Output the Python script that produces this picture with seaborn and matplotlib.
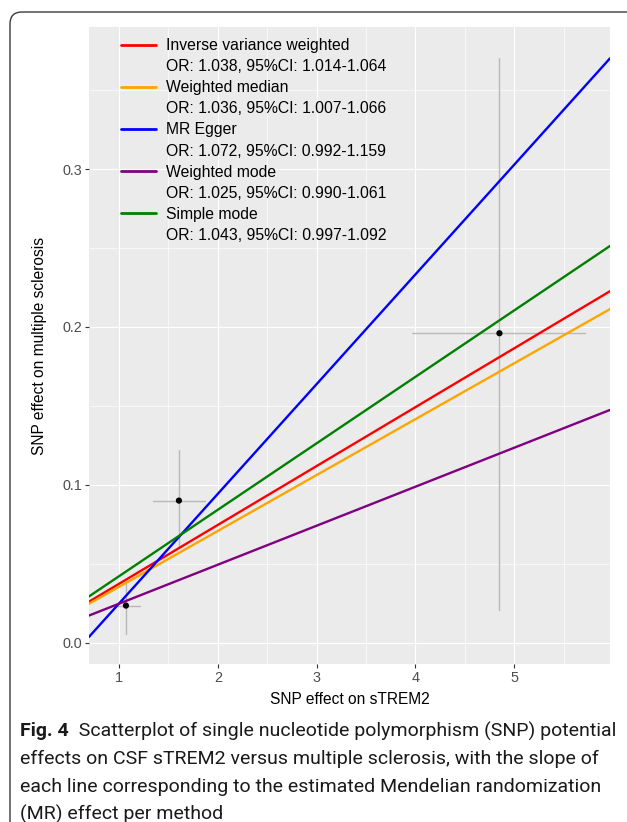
import matplotlib
matplotlib.use("Agg")
import matplotlib.pyplot as plt
import seaborn as sns
import pandas as pd
from matplotlib.lines import Line2D
from matplotlib.patches import FancyBboxPatch
from matplotlib.transforms import IdentityTransform

# ---------------- data ----------------
snp_x = [1.07, 1.606, 4.85]
snp_y = [0.0235, 0.090, 0.196]
snp_x_lo = [0.94, 1.344, 3.97]
snp_x_hi = [1.21, 1.87, 5.72]
snp_y_lo = [0.0055, 0.0613, 0.0207]
snp_y_hi = [0.0378, 0.122, 0.3705]

methods = ["Inverse variance weighted", "Weighted median", "MR Egger",
           "Weighted mode", "Simple mode"]
method_stats = ["OR: 1.038, 95%CI: 1.014-1.064",
                "OR: 1.036, 95%CI: 1.007-1.066",
                "OR: 1.072, 95%CI: 0.992-1.159",
                "OR: 1.025, 95%CI: 0.990-1.061",
                "OR: 1.043, 95%CI: 0.997-1.092"]
slopes = [0.0373, 0.0354, 0.0695, 0.0247, 0.0421]
intercepts = [0.0, 0.0, -0.0447, 0.0, 0.0]
colors = ["#FF0000", "#FFA500", "#0000FF", "#800080", "#008000"]

x_ticks = [1, 2, 3, 4, 5]
y_ticks = [0.0, 0.1, 0.2, 0.3]
y_tick_labels = ["0.0", "0.1", "0.2", "0.3"]

caption_bold = "Fig. 4"
caption_lines = [
    "Scatterplot of single nucleotide polymorphism (SNP) potential",
    "effects on CSF sTREM2 versus multiple sclerosis, with the slope of",
    "each line corresponding to the estimated Mendelian randomization",
    "(MR) effect per method",
]

# ---------------- style ----------------
sns.set_theme(style="darkgrid", rc={
    "axes.facecolor": "#EBEBEB",
    "grid.color": "white",
    "axes.edgecolor": "none",
})
plt.rcParams["font.family"] = ["Liberation Sans", "DejaVu Sans"]

W, H = 627, 822
fig = plt.figure(figsize=(W / 100, H / 100), dpi=100)
fig.patch.set_facecolor("white")

pl, pr, pb, pt = 89, 610, 664, 27
ax = fig.add_axes([pl / W, 1 - pb / H, (pr - pl) / W, (pb - pt) / H])

df = pd.DataFrame({"x": snp_x, "y": snp_y})

# error bars
for i in range(len(snp_x)):
    ax.plot([snp_x_lo[i], snp_x_hi[i]], [snp_y[i], snp_y[i]],
            color="#B8B8B8", lw=1.0, zorder=2)
    ax.plot([snp_x[i], snp_x[i]], [snp_y_lo[i], snp_y_hi[i]],
            color="#B8B8B8", lw=1.0, zorder=2)

# MR lines
for name, b, a, c in zip(methods, slopes, intercepts, colors):
    ax.axline((0, a), slope=b, color=c, lw=1.7, zorder=3)

sns.scatterplot(data=df, x="x", y="y", ax=ax, color="black", s=20,
                edgecolor="none", zorder=4, legend=False)

ax.set_xlim(0.696, 5.969)
ax.set_ylim(-0.0135, 0.390)
ax.set_xticks(x_ticks)
ax.set_xticklabels([str(t) for t in x_ticks])
ax.set_yticks(y_ticks)
ax.set_yticklabels(y_tick_labels)
ax.set_xticks([1.5, 2.5, 3.5, 4.5, 5.5], minor=True)
ax.set_yticks([0.05, 0.15, 0.25, 0.35], minor=True)
ax.grid(which="major", color="white", lw=0.85)
ax.grid(which="minor", color="white", lw=0.45)
ax.tick_params(axis="both", which="major", length=3.0, width=0.8,
               color="#333333", labelcolor="#4D4D4D", labelsize=10.4, pad=2,
               bottom=True, left=True)
ax.tick_params(axis="both", which="minor", length=0)
for s in ax.spines.values():
    s.set_visible(False)

ax.set_xlabel("SNP effect on sTREM2", fontsize=11.2, color="black", labelpad=5)
ax.set_ylabel("SNP effect on multiple sclerosis", fontsize=11.2, color="black",
              labelpad=11)

# legend: title line with key, then statistics line without key
handles, labels = [], []
for name, st, c in zip(methods, method_stats, colors):
    handles.append(Line2D([], [], color=c, lw=2.0))
    labels.append(name)
    handles.append(Line2D([], [], color="none", lw=0))
    labels.append(st)
leg = ax.legend(handles, labels, loc="upper left",
                bbox_to_anchor=((121 - pl) / (pr - pl), 1 - (38 - pt) / (pb - pt)),
                frameon=False, fontsize=11.3, handlelength=2.25,
                handletextpad=0.6, labelspacing=0.39, borderpad=0,
                borderaxespad=0)
for t in leg.get_texts():
    t.set_color("black")

# outer rounded frame
frame = FancyBboxPatch((10, -200), 700, H - 12 + 200,
                       boxstyle="round,pad=0,rounding_size=12",
                       transform=IdentityTransform(), fill=False,
                       edgecolor="#3A3A3A", lw=1.0, clip_on=False)
fig.patches.append(frame)

# caption
cap_font = ["Roboto", "DejaVu Sans"]
fs = 14.0
renderer = fig.canvas.get_renderer()
tb = fig.text(20 / W, 1 - 731 / H, caption_bold, fontsize=fs, fontweight="bold",
              family=cap_font, va="center", ha="left", color="#1A1A1A")
t1 = ax.annotate("  " + caption_lines[0], xy=(1, 0.5), xycoords=tb,
                 va="center", ha="left", fontsize=fs, family=cap_font,
                 color="#1A1A1A", annotation_clip=False)
fig.canvas.draw()
bb0 = tb.get_window_extent(renderer)
bb1 = t1.get_window_extent(renderer)
scale = (617 - 20) / (bb1.x1 - bb0.x0)
fs2 = fs * scale
tb.set_fontsize(fs2)
t1.set_fontsize(fs2)
ys = [759, 787, 814]
for line, y in zip(caption_lines[1:], ys):
    fig.text(20 / W, 1 - y / H, line, fontsize=fs2, family=cap_font,
             va="center", ha="left", color="#1A1A1A")

fig.savefig("out.png", dpi=100, facecolor="white")
